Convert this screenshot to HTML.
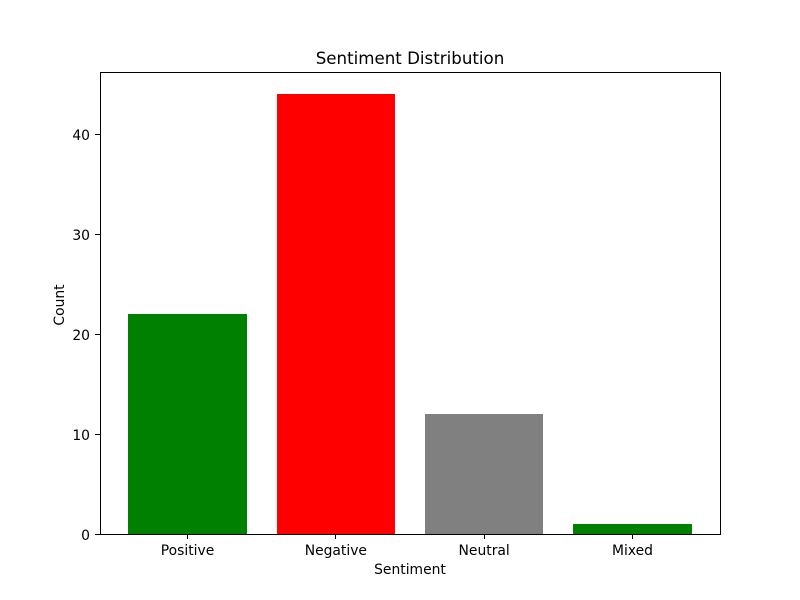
<!DOCTYPE html>
<html lang="en">
<head>
<meta charset="utf-8">
<title>Sentiment Distribution</title>
<style>
  html, body { margin: 0; padding: 0; background: #ffffff; }
  svg { display: block; }
  text { font-family: "DejaVu Sans", "Liberation Sans", sans-serif; fill: #000000; }
  rect, line { shape-rendering: crispEdges; }
</style>
</head>
<body>
<svg id="chart" xmlns="http://www.w3.org/2000/svg" width="800" height="600" viewBox="0 0 800 600">
  <rect x="0" y="0" width="800" height="600" fill="#ffffff"></rect>
  <rect x="100" y="72" width="620" height="462" fill="#ffffff"></rect>
  <g id="bars"></g>
  <g id="ticks"></g>
  <rect x="100.5" y="72.5" width="620" height="462" fill="none" stroke="#000000" stroke-width="1"></rect>
  <text x="410" y="64" font-size="16.67" text-anchor="middle">Sentiment Distribution</text>
  <text x="410" y="574" font-size="13.89" text-anchor="middle">Sentiment</text>
  <text x="64" y="305" font-size="13.89" text-anchor="middle" transform="rotate(-90 64 305)">Count</text>
</svg>
<script>
const categories = ["Positive", "Negative", "Neutral", "Mixed"];
const counts = [22, 44, 12, 1];
const barColors = ["#008000", "#ff0000", "#808080", "#008000"];
const yTickValues = [0, 10, 20, 30, 40];

const NS = "http://www.w3.org/2000/svg";
const plot = { left: 100, right: 720, top: 72, bottom: 534 };
const barWidth = 0.8;

const xMin = -barWidth / 2;
const xMax = categories.length - 1 + barWidth / 2;
const xMargin = (xMax - xMin) * 0.05;
const yMax = Math.max.apply(null, counts) * 1.05;

function xScale(v) {
  return plot.left + (v - (xMin - xMargin)) / ((xMax + xMargin) - (xMin - xMargin)) * (plot.right - plot.left);
}
function yScale(v) {
  return plot.bottom - (v / yMax) * (plot.bottom - plot.top);
}
function make(tag, attrs) {
  const el = document.createElementNS(NS, tag);
  Object.keys(attrs).forEach(function (k) { el.setAttribute(k, attrs[k]); });
  return el;
}

const barsGroup = document.getElementById("bars");
const ticksGroup = document.getElementById("ticks");

categories.forEach(function (cat, i) {
  const x0 = Math.round(xScale(i - barWidth / 2));
  const x1 = Math.round(xScale(i + barWidth / 2));
  const yTop = Math.round(yScale(counts[i]));
  const bar = make("rect", { x: x0, y: yTop, width: x1 - x0, height: plot.bottom - yTop, fill: barColors[i] });
  
  
  barsGroup.appendChild(bar);

  const cx = xScale(i);
  const tickX = Math.floor(cx) + 0.5;
  const tick = make("line", { x1: tickX, x2: tickX, y1: plot.bottom, y2: plot.bottom + 5, stroke: "#000000", "stroke-width": 1 });
  
  
  ticksGroup.appendChild(tick);

  const label = make("text", { x: cx, y: 555, "font-size": 13.89, "text-anchor": "middle" });
  label.textContent = cat;
  
  
  ticksGroup.appendChild(label);
});

yTickValues.forEach(function (v) {
  const cy = Math.round(yScale(v));
  const tick = make("line", { x1: plot.left - 5, x2: plot.left, y1: cy + 0.5, y2: cy + 0.5, stroke: "#000000", "stroke-width": 1 });
  
  
  ticksGroup.appendChild(tick);

  const label = make("text", { x: 90, y: cy + 6, "font-size": 13.89, "text-anchor": "end" });
  label.textContent = String(v);
  
  
  ticksGroup.appendChild(label);
});
</script>
</body>
</html>
